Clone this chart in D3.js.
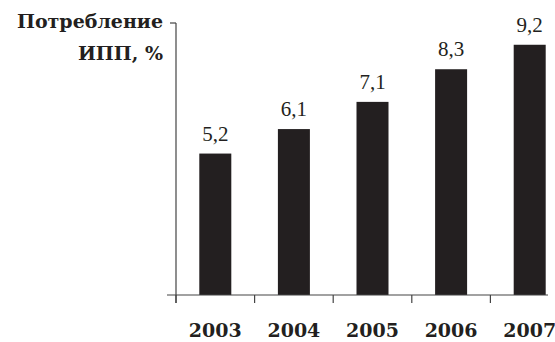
<!DOCTYPE html>
<html>
<head>
<meta charset="utf-8">
<script src="https://cdn.jsdelivr.net/npm/d3@7"></script>
<style>
  body { margin: 0; background: #fff; }
  svg { display: block; }
</style>
</head>
<body>
<svg id="chart"></svg>
<script>
var years = ["2003", "2004", "2005", "2006", "2007"];
var values = [5.2, 6.1, 7.1, 8.3, 9.2];
var valueLabels = ["5,2", "6,1", "7,1", "8,3", "9,2"];
var titleLines = ["Потребление", "ИПП, %"];

var width = 555, height = 342;
var svg = d3.select("#chart").attr("width", width).attr("height", height);

var x0 = 176, baseY = 295;
var bandW = 78.6;

var x = d3.scaleBand()
    .domain(years)
    .range([x0, x0 + bandW * years.length])
    .paddingInner(0)
    .paddingOuter(0);

var y = d3.scaleLinear().domain([0, 10]).range([baseY, 23]);

var ink = "#231f20";
var barW = 32;

// bars
svg.selectAll("rect.bar")
    .data(values)
    .enter()
    .append("rect")
    .attr("class", "bar")
    .attr("x", function(d, i) { return x(years[i]) + x.bandwidth() / 2 - barW / 2; })
    .attr("y", function(d) { return y(d); })
    .attr("width", barW)
    .attr("height", function(d) { return baseY - y(d); })
    .attr("fill", ink);

// value labels
svg.selectAll("text.val")
    .data(values)
    .enter()
    .append("text")
    .attr("class", "val")
    .attr("x", function(d, i) { return x(years[i]) + x.bandwidth() / 2; })
    .attr("y", function(d) { return y(d) - 13; })
    .attr("text-anchor", "middle")
    .attr("font-family", "Liberation Serif, serif")
    .attr("font-size", 21)
    .attr("fill", ink)
    .text(function(d, i) { return valueLabels[i]; });

// y axis line + top tick
svg.append("line")
    .attr("x1", x0).attr("x2", x0)
    .attr("y1", y(10)).attr("y2", baseY + 8)
    .attr("stroke", "#444").attr("stroke-width", 1.2);
svg.append("line")
    .attr("x1", x0 - 6).attr("x2", x0)
    .attr("y1", y(10)).attr("y2", y(10))
    .attr("stroke", "#444").attr("stroke-width", 1.2);

// x axis line
svg.append("line")
    .attr("x1", 167).attr("x2", 548)
    .attr("y1", baseY).attr("y2", baseY)
    .attr("stroke", "#444").attr("stroke-width", 1.2);

// ticks at band boundaries
svg.selectAll("line.xtick")
    .data(years)
    .enter()
    .append("line")
    .attr("class", "xtick")
    .attr("x1", function(d) { return x(d); })
    .attr("x2", function(d) { return x(d); })
    .attr("y1", baseY).attr("y2", baseY + 8)
    .attr("stroke", "#444").attr("stroke-width", 1.2);

// year labels
svg.selectAll("text.year")
    .data(years)
    .enter()
    .append("text")
    .attr("class", "year")
    .attr("x", function(d) { return x(d) + x.bandwidth() / 2; })
    .attr("y", 337)
    .attr("text-anchor", "middle")
    .attr("font-family", "DejaVu Serif, serif")
    .attr("font-weight", "bold")
    .attr("font-size", 19)
    .attr("fill", ink)
    .text(function(d) { return d; });

// title
svg.selectAll("text.title")
    .data(titleLines)
    .enter()
    .append("text")
    .attr("class", "title")
    .attr("x", 163)
    .attr("y", function(d, i) { return 28 + i * 32; })
    .attr("text-anchor", "end")
    .attr("font-family", "DejaVu Serif, serif")
    .attr("font-weight", "bold")
    .attr("font-size", 19)
    .attr("fill", ink)
    .text(function(d) { return d; });
</script>
</body>
</html>
